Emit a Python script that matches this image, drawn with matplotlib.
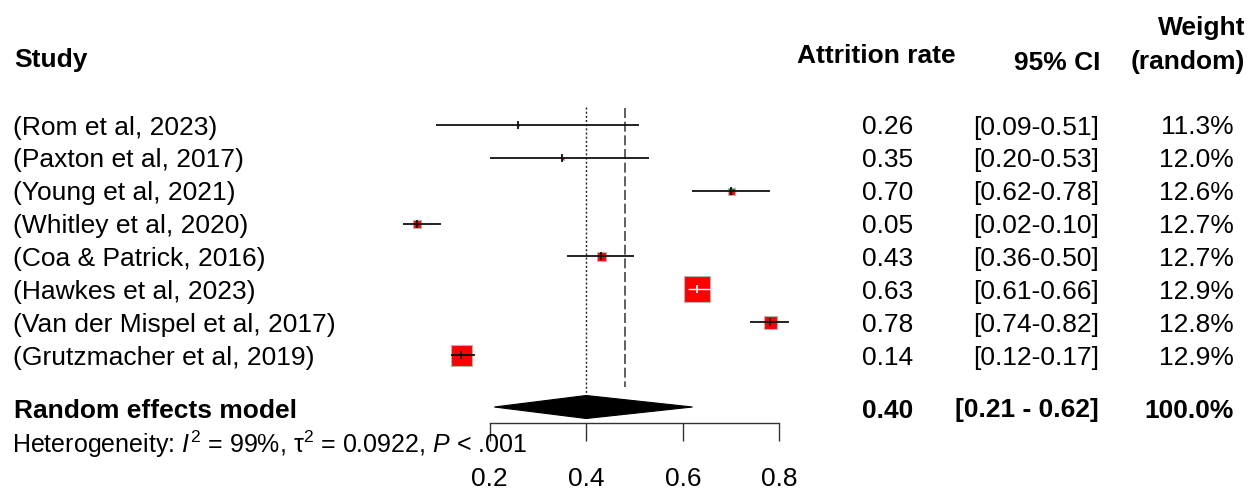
import matplotlib
matplotlib.use("Agg")
import matplotlib.pyplot as plt
from matplotlib import transforms
from matplotlib.patches import Polygon

plt.rcParams["font.family"] = ["Liberation Sans", "DejaVu Sans"]
plt.rcParams["mathtext.fontset"] = "custom"
plt.rcParams["mathtext.rm"] = "Liberation Sans"
plt.rcParams["mathtext.it"] = "Liberation Sans:italic"
plt.rcParams["mathtext.bf"] = "Liberation Sans:bold"

# ---- data -------------------------------------------------------------
studies = [
    "(Rom et al, 2023)",
    "(Paxton et al, 2017)",
    "(Young et al, 2021)",
    "(Whitley et al, 2020)",
    "(Coa & Patrick, 2016)",
    "(Hawkes et al, 2023)",
    "(Van der Mispel et al, 2017)",
    "(Grutzmacher et al, 2019)",
]
rate = [0.26, 0.35, 0.70, 0.05, 0.43, 0.63, 0.78, 0.14]
ci_lo = [0.09, 0.20, 0.62, 0.02, 0.36, 0.61, 0.74, 0.12]
ci_hi = [0.51, 0.53, 0.78, 0.10, 0.50, 0.66, 0.82, 0.17]
weight_random = [11.3, 12.0, 12.6, 12.7, 12.7, 12.9, 12.8, 12.9]

pooled_rate = 0.40
pooled_lo = 0.21
pooled_hi = 0.62
pooled_weight = 100.0
common_rate = 0.48

i2 = 99
tau2 = 0.0922
p_text = "< .001"

axis_ticks = [0.2, 0.4, 0.6, 0.8]
axis_ticklabels = ["0.2", "0.4", "0.6", "0.8"]

# ---- styling ----------------------------------------------------------
W, H = 1257, 490
FS = 19
square_px = [2, 3, 7, 8, 9, 26, 13, 21]   # box side lengths (pixels)
inside_white = [False, False, False, False, False, True, False, False]

fig = plt.figure(figsize=(W / 100, H / 100), dpi=100)
fig.patch.set_facecolor("white")

# forest panel: x maps 0.2 -> 489.5 px, 483.3 px per unit
ax_left, ax_right, ax_bottom = 380, 800, 423
ax = fig.add_axes([ax_left / W, (H - ax_bottom) / H, (ax_right - ax_left) / W, ax_bottom / H])
px_per_unit = 483.3
ax.set_xlim(0.2 + (ax_left - 489.5) / px_per_unit, 0.2 + (ax_right - 489.5) / px_per_unit)
row0_px, row_step = 125.0, 32.86
ax.set_ylim((ax_bottom - row0_px) / row_step, (0 - row0_px) / row_step)
ax.patch.set_alpha(0)

for side in ("top", "left", "right"):
    ax.spines[side].set_visible(False)
ax.spines["bottom"].set_bounds(axis_ticks[0], axis_ticks[-1])
ax.spines["bottom"].set_linewidth(1.0)
ax.spines["bottom"].set_color("#333333")
ax.set_yticks([])
ax.set_xticks(axis_ticks)
ax.set_xticklabels(axis_ticklabels, fontsize=FS)
ax.tick_params(axis="x", direction="out", length=13, width=1.0, color="#333333", pad=18.5)

rows = list(range(len(studies)))
pooled_row = (407 - row0_px) / row_step

# reference lines (random effects: dotted, common effect: dashed)
ax.plot([pooled_rate, pooled_rate], [-0.55, 8.22], color="#222222", lw=1.0,
        dashes=(1.5, 1.5), zorder=1)
ax.plot([common_rate, common_rate], [-0.52, 7.97], color="#444444", lw=1.2,
        dashes=(6, 2.2), zorder=1)

# boxes, then confidence intervals and estimate ticks drawn over them
for r, est, lo, hi, side, white in zip(rows, rate, ci_lo, ci_hi, square_px, inside_white):
    ax.scatter([est], [r], s=(side * 0.72) ** 2, marker="s", color="#ff0000",
               edgecolors="#b5b5b5", linewidths=0.8, zorder=2)
    line_col = "white" if white else "#111111"
    ax.plot([lo, hi], [r, r], color=line_col, lw=1.3 if not white else 1.0,
            solid_capstyle="butt", zorder=3)
    ax.scatter([est], [r], s=(8 * 0.72) ** 2, marker="|", color=line_col,
               linewidths=1.3, zorder=4)

# pooled diamond
half_h = 11.5 / row_step
diamond = Polygon([(pooled_lo, pooled_row), (pooled_rate, pooled_row - half_h),
                   (pooled_hi, pooled_row), (pooled_rate, pooled_row + half_h)],
                  closed=True, facecolor="black", edgecolor="black", lw=0.8, zorder=3)
ax.add_patch(diamond)

# ---- text columns -----------------------------------------------------
row_tf = transforms.blended_transform_factory(fig.transFigure, ax.transData)
base_off = 9.5 / row_step  # baseline sits below the row centre


def row_text(x_px, r, s, ha="left", bold=False, size=FS):
    fig.text(x_px / W, r + base_off, s, transform=row_tf, ha=ha, va="baseline",
             fontsize=size, fontweight="bold" if bold else "normal", color="black")


def head_text(x_px, base_px, s, ha="left"):
    fig.text(x_px / W, 1 - base_px / H, s, ha=ha, va="baseline", fontsize=FS,
             fontweight="bold", color="black")


head_text(14, 67, "Study")
head_text(876, 63, "Attrition rate", ha="center")
head_text(1100, 70, "95% CI", ha="right")
head_text(1245, 35, "Weight", ha="right")
head_text(1245, 69, "(random)", ha="right")

for r, name, est, lo, hi, w in zip(rows, studies, rate, ci_lo, ci_hi, weight_random):
    row_text(13, r, name)
    row_text(913, r, f"{est:.2f}", ha="right")
    row_text(1099, r, f"[{lo:.2f}-{hi:.2f}]", ha="right")
    row_text(1234, r, f"{w:.1f}%", ha="right")

pooled_text_row = (408 - row0_px) / row_step
row_text(14, pooled_text_row, "Random effects model", bold=True)
row_text(913, pooled_text_row, f"{pooled_rate:.2f}", ha="right", bold=True)
row_text(1099, pooled_text_row, f"[{pooled_lo:.2f} - {pooled_hi:.2f}]", ha="right", bold=True)
row_text(1234, pooled_text_row, f"{pooled_weight:.1f}%", ha="right", bold=True)

het_row = (443 - row0_px) / row_step
row_text(12, het_row,
         rf"Heterogeneity: $\mathit{{I}}^2$ = {i2}%, τ$^2$ = {tau2:.4f}, $\mathit{{P}}$ {p_text}",
         size=18)

fig.savefig("out.png", dpi=100, facecolor="white")
